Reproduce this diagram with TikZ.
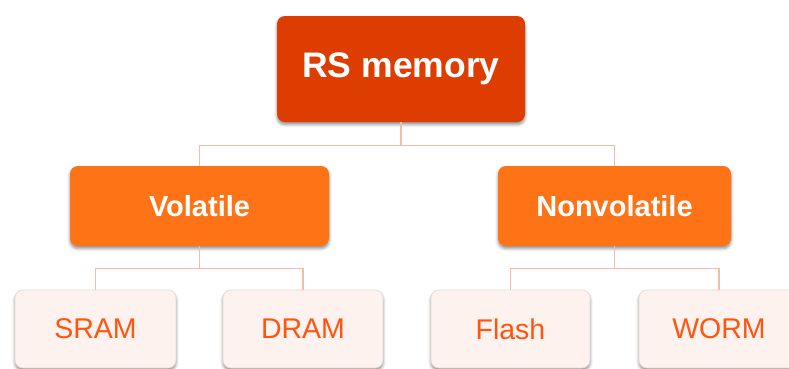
\documentclass[tikz,border=0pt]{standalone}
\usepackage{fontspec}
\setmainfont{Liberation Sans}
\usetikzlibrary{shadows.blur}
\definecolor{rootc}{HTML}{DD3D00}
\definecolor{midc}{HTML}{FF7317}
\definecolor{leaffill}{HTML}{FDF2EE}
\definecolor{leafdraw}{HTML}{E6DAD6}
\definecolor{leaftext}{HTML}{FF5510}
\definecolor{linkc}{HTML}{F5BCA8}
\begin{document}
\begin{tikzpicture}[x=1pt,y=-1pt,
  boxbase/.style={rectangle, rounded corners=8pt, inner sep=0pt,
    blur shadow={shadow xshift=0pt, shadow yshift=-2.5pt, shadow blur radius=3pt, shadow opacity=45}},
  rootbox/.style={boxbase, fill=rootc, text=white, font=\fontsize{35.5}{40}\selectfont\bfseries,
    minimum width=248pt, minimum height=106pt},
  midbox/.style={boxbase, fill=midc, text=white, font=\fontsize{29}{33}\selectfont\bfseries,
    minimum height=80pt},
  leafbox/.style={boxbase, fill=leaffill, draw=leafdraw, line width=0.6pt, text=leaftext,
    font=\fontsize{28.5}{32}\selectfont, minimum width=160pt, minimum height=78pt},
  link/.style={draw=linkc, line width=1.4pt}
]
\useasboundingbox (0,0) rectangle (789,368);
\clip (0,0) rectangle (789,368);
\node[rootbox] (root) at (401,69) {RS memory};
\node[midbox, minimum width=259pt] (vol) at (199.5,206) {Volatile};
\node[midbox, minimum width=233pt] (nonvol) at (614.5,206) {Nonvolatile};
\node[leafbox, minimum width=161pt] (sram) at (95.5,329) {SRAM};
\node[leafbox] (dram) at (303,329) {DRAM};
\node[leafbox, minimum width=159pt] (flash) at (510.5,329) {Flash};
\node[leafbox] (worm) at (719,329) {WORM};
\draw[link] (root.south) -- ++(0,23) -| (vol.north);
\draw[link] (root.south) -- ++(0,23) -| (nonvol.north);
\draw[link] (vol.south) -- ++(0,22) -| (sram.north);
\draw[link] (vol.south) -- ++(0,22) -| (dram.north);
\draw[link] (nonvol.south) -- ++(0,22) -| (flash.north);
\draw[link] (nonvol.south) -- ++(0,22) -| (worm.north);
\end{tikzpicture}
\end{document}
